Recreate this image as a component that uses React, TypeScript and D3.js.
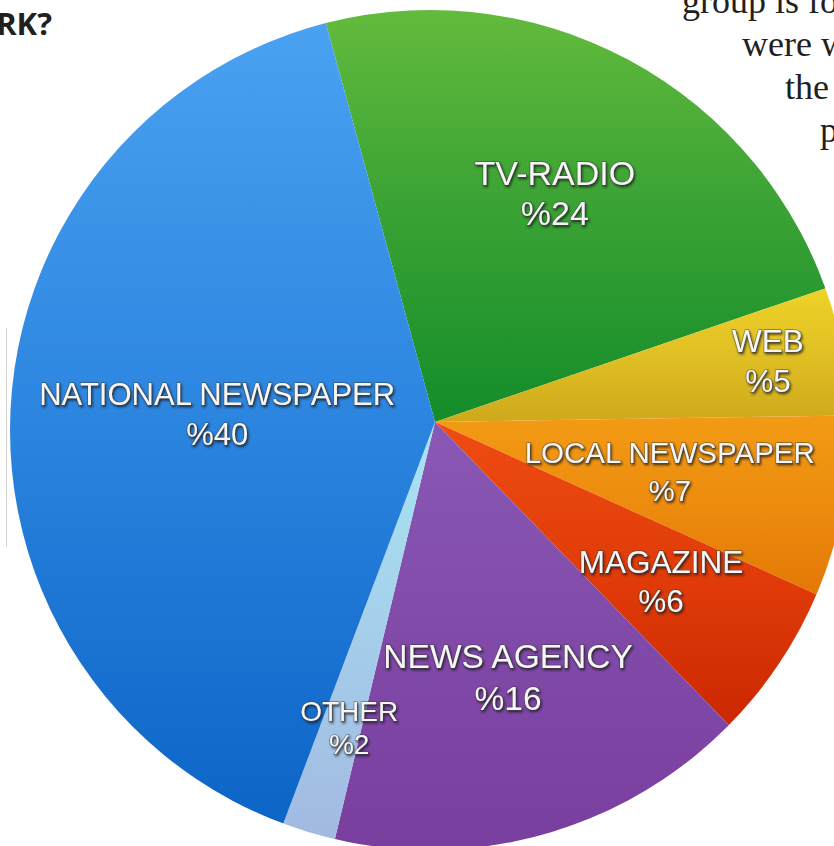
import * as React from 'react';
import * as d3 from 'd3';

// slices, clockwise from the top
const categories = ['TV-RADIO', 'WEB', 'LOCAL NEWSPAPER', 'MAGAZINE', 'NEWS AGENCY', 'OTHER', 'NATIONAL NEWSPAPER'];
const shares = [24, 5, 7, 6, 16, 2, 40];
const shareLabels = ['%24', '%5', '%7', '%6', '%16', '%2', '%40'];

const topColors = ['#6dc13e', '#f2d62a', '#f39b14', '#ef4c12', '#8a58b5', '#a8e6f3', '#4ea5f4'];
const midColors = ['#3da435', '#e2c224', '#ec8a0d', '#df3a08', '#8049a8', '#a5cdea', '#2c85df'];
const bottomColors = ['#138c2a', '#cfa81c', '#e27504', '#c82400', '#783d9d', '#a2b6e1', '#0a62c5'];

// text of the page around the figure
const heading = 'RK?';
const pageLines = ['group is for', 'were w', 'the', 'p'];

// label layout: radius fraction, angle nudge (deg), font size, line gap
const labelLayout: [number, number, number, number][] = [
    [0.615, -0.25, 34, 40],
    [0.806, -0.5, 31.5, 40],
    [0.571, 0.1, 29.5, 38],
    [0.658, 0, 31.5, 39],
    [0.631, -0.7, 33.5, 42],
    [0.755, -1.4, 28, 33],
    [0.519, -0.6, 31, 40]
];

const W = 834;
const H = 846;

interface ISlice {
    name: string;
    value: number;
    label: string;
    index: number;
}

export default class App extends React.PureComponent<{}, {}> {

    svg: SVGSVGElement | null = null;

    _draw() {
        // outline of the disc, and the point where the slices meet
        let cx = 430, cy = 430, radius = 420;
        let ax = 435, ay = 422;
        let start = -15.3 * Math.PI / 180;

        let list: ISlice[] = categories.map((name, i) => ({
            name: name, value: shares[i], label: shareLabels[i], index: i
        }));

        let svg = d3.select(this.svg)
            .attr('width', W)
            .attr('height', H);
        svg.selectAll('*').remove();

        let defs = svg.append('defs');
        list.forEach((d) => {
            let grad = defs.append('linearGradient')
                .attr('id', 'slice' + d.index)
                .attr('x1', 0).attr('y1', 0).attr('x2', 0).attr('y2', 1);
            grad.append('stop').attr('offset', '0%').attr('stop-color', topColors[d.index]);
            grad.append('stop').attr('offset', '50%').attr('stop-color', midColors[d.index]);
            grad.append('stop').attr('offset', '100%').attr('stop-color', bottomColors[d.index]);
        });

        defs.append('clipPath')
            .attr('id', 'disc')
            .append('circle')
            .attr('cx', cx).attr('cy', cy).attr('r', radius);

        let filter = defs.append('filter')
            .attr('id', 'emboss')
            .attr('x', '-10%').attr('y', '-30%').attr('width', '120%').attr('height', '160%');
        filter.append('feDropShadow')
            .attr('dx', 1.2).attr('dy', 1.8).attr('stdDeviation', 0.9)
            .attr('flood-color', '#141414').attr('flood-opacity', 0.8);

        // page text
        svg.append('text')
            .attr('x', 52).attr('y', 35)
            .attr('text-anchor', 'end')
            .style('font-family', '"Open Sans", "DejaVu Sans", sans-serif')
            .style('font-weight', 700)
            .style('font-size', '31px')
            .attr('fill', '#231f20')
            .text(heading);

        let lineX = [682, 742, 785, 820];
        pageLines.forEach((t, i) => {
            svg.append('text')
                .attr('x', lineX[i]).attr('y', 13 + i * 43)
                .style('font-family', '"Liberation Serif", "DejaVu Serif", serif')
                .style('font-size', '36px')
                .attr('fill', '#231f20')
                .text(t);
        });

        svg.append('line')
            .attr('x1', 6.5).attr('x2', 6.5).attr('y1', 328).attr('y2', 547)
            .attr('stroke', '#d4d4d4').attr('stroke-width', 1);

        let pie = d3.pie<ISlice>()
            .sort(null)
            .value((d) => d.value)
            .startAngle(start)
            .endAngle(start + 2 * Math.PI);

        let arc = d3.arc<d3.PieArcDatum<ISlice>>()
            .innerRadius(0)
            .outerRadius(radius + 40);

        let clipped = svg.append('g').attr('clip-path', 'url(#disc)');
        let g = clipped.append('g')
            .attr('transform', 'translate(' + ax + ',' + ay + ')');

        let arcs = pie(list);

        g.selectAll('.slice')
            .data(arcs)
            .enter()
                .append('path')
                .attr('class', 'slice')
                .attr('d', arc)
                .attr('fill', (d) => 'url(#slice' + d.data.index + ')');

        let labels = svg.append('g')
            .attr('transform', 'translate(' + ax + ',' + ay + ')');

        arcs.forEach((d) => {
            let [rf, nudge, fs, gap] = labelLayout[d.data.index];
            let a = (d.startAngle + d.endAngle) / 2 + nudge * Math.PI / 180;
            let labelArc = d3.arc<any>().innerRadius(radius * rf).outerRadius(radius * rf);
            let [x, y] = labelArc.centroid({ startAngle: a, endAngle: a });
            let cap = fs * 0.716;

            let text = labels.append('text')
                .attr('text-anchor', 'middle')
                .style('font-family', '"Liberation Sans", Arial, Helvetica, sans-serif')
                .style('font-size', fs + 'px')
                .style('paint-order', 'stroke')
                .attr('fill', '#f6f6f6')
                .attr('stroke', 'rgba(60,60,60,0.55)')
                .attr('stroke-width', 1.3)
                .attr('filter', 'url(#emboss)');
            text.append('tspan')
                .attr('x', x).attr('y', y - gap / 2 + cap / 2)
                .text(d.data.name);
            text.append('tspan')
                .attr('x', x).attr('y', y + gap / 2 + cap / 2)
                .text(d.data.label);
        });
    }

    componentDidMount() {
        this._draw();
    }

    render() {
        return (
            <svg
                ref={(svg) => { this.svg = svg; }}
                style={{ position: 'absolute', left: 0, top: 0, background: '#ffffff' }}
            ></svg>
        );
    }
}
